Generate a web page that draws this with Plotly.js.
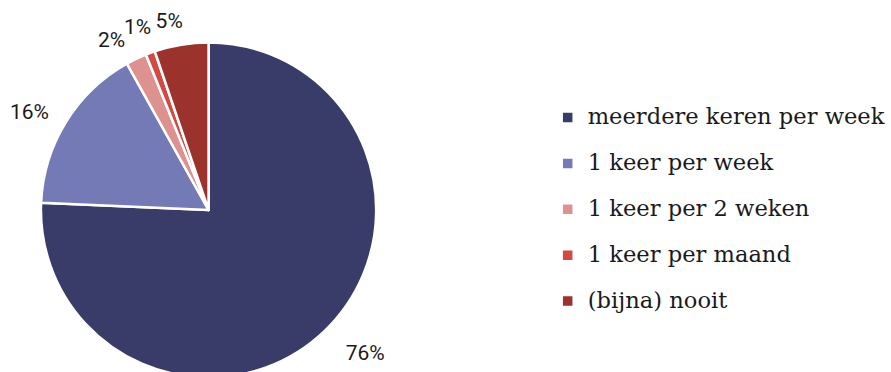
<!DOCTYPE html>
<html>
<head>
<meta charset="utf-8">
<script src="https://cdn.plot.ly/plotly-3.0.1.min.js"></script>
<style>html,body{margin:0;padding:0;overflow:hidden;background:#fff;}#chart{width:891px;height:424px;}</style>
</head>
<body>
<div id="chart"></div>
<script>
const categories = ["meerdere keren per week", "1 keer per week", "1 keer per 2 weken", "1 keer per maand", "(bijna) nooit"];
const values = [75.7, 16.2, 2.0, 0.9, 5.2];
const colors = ["#393c69", "#747ab6", "#de9290", "#d24a43", "#9b322c"];

// layout: the pie sits in a 380px square plot box; each percentage label layer has its own radius / nudge
const BOX = 380, PLOTW = 872, PIE_R = 168;
const labelLayers = [
  {show: [0], r: 190, rot: 0},
  {show: [1], r: 181, rot: 0},
  {show: [2], r: 178, rot: -0.3},
  {show: [3], r: 180, rot: 3.7},
  {show: [4], r: 179, rot: 3.0}
];
function dom(r) {
  return {x: [(BOX/2 - r)/PLOTW, (BOX/2 + r)/PLOTW], y: [(BOX/2 - r)/BOX, (BOX/2 + r)/BOX]};
}

const legendLabels = categories.map(c => "<span style='font-size:22.6px'>" + c + "</span><br>\u00A0");
const textFont = {family: "Roboto, 'Noto Sans', sans-serif", size: 21, color: "#1a1a1a"};

const base = {
  type: "pie",
  labels: legendLabels,
  values: values,
  sort: false,
  direction: "clockwise",
  hoverinfo: "none"
};

const traces = [Object.assign({}, base, {
  rotation: 0,
  marker: {colors: colors, line: {color: "#ffffff", width: 2.5}},
  textinfo: "none",
  domain: dom(PIE_R),
  showlegend: true
})];

labelLayers.forEach(layer => {
  traces.push(Object.assign({}, base, {
    rotation: layer.rot,
    marker: {colors: colors.map(() => "rgba(0,0,0,0)"), line: {color: "rgba(0,0,0,0)", width: 0}},
    texttemplate: values.map((v, i) => layer.show.includes(i) ? "%{percent:.0%}" : ""),
    textposition: "outside",
    outsidetextfont: textFont,
    domain: dom(layer.r),
    showlegend: false
  }));
});

// plot box: left 19, top 20 -> pie centre at (209, 210)
const layout = {
  width: 891,
  height: 424,
  margin: {l: 19, r: 0, t: 20, b: 24},
  paper_bgcolor: "#ffffff",
  plot_bgcolor: "#ffffff",
  showlegend: true,
  legend: {
    x: 0.6077, xanchor: "left",
    y: 0.473, yanchor: "middle",
    valign: "top",
    font: {family: "'DejaVu Serif', 'Liberation Serif', serif", size: 16.5, color: "#1a1a1a"},
    bgcolor: "rgba(0,0,0,0)"
  }
};

Plotly.newPlot("chart", traces, layout, {displayModeBar: false, staticPlot: true});
</script>
</body>
</html>
